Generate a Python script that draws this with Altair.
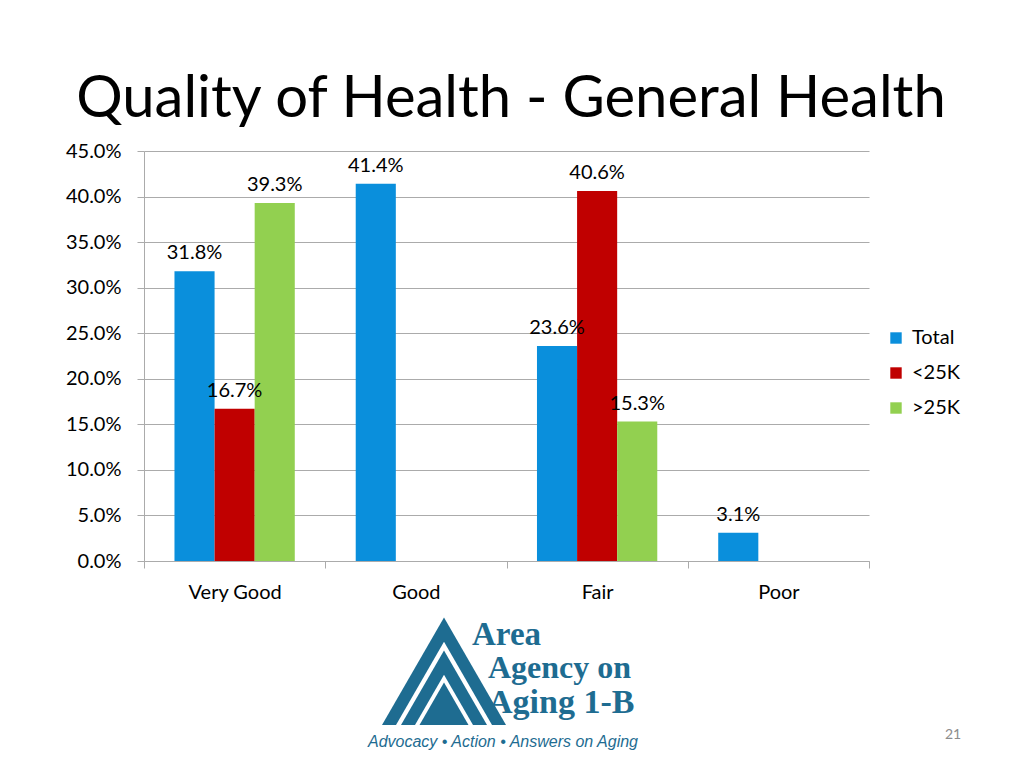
import altair as alt
import pandas as pd

categories = ["Very Good", "Good", "Fair", "Poor"]
series = ["Total", "<25K", ">25K"]
total = [31.8, 41.4, 23.6, 3.1]
under25 = [16.7, None, 40.6, None]
over25 = [39.3, None, 15.3, None]
colors = ["#0A8FDC", "#C00000", "#92D050"]
y_ticks = [0, 0.05, 0.10, 0.15, 0.20, 0.25, 0.30, 0.35, 0.40, 0.45]

title_text = "Quality of Health - General Health"
logo_lines = ["Area", "Agency on", "Aging 1-B"]
tagline = "Advocacy \u2022 Action \u2022 Answers on Aging"
page_no = "21"

rows = []
for s, vals in zip(series, [total, under25, over25]):
    for c, v in zip(categories, vals):
        if v is not None:
            rows.append({"category": c, "series": s, "value": v / 100})
df = pd.DataFrame(rows)

FONT = "Lato"
GRID = "#ababab"
LOGO = "#1E6C91"

x = alt.X("category:N", sort=categories,
          scale=alt.Scale(paddingInner=0, paddingOuter=0),
          axis=alt.Axis(title=None, labelAngle=0, tickBand="extent", tickSize=7,
                        labelPadding=14, labelFontSize=20, labelFont=FONT,
                        labelColor="#000000", domainColor=GRID, tickColor=GRID))
xo = alt.XOffset("series:N", sort=series,
                 scale=alt.Scale(paddingInner=0, paddingOuter=0.76))
y = alt.Y("value:Q", scale=alt.Scale(domain=[0, 0.45], nice=False),
          axis=alt.Axis(title=None, values=y_ticks, format=".1%", tickSize=7,
                        labelPadding=16, labelFontSize=20, labelFont=FONT,
                        labelColor="#000000", domainColor=GRID, tickColor=GRID,
                        gridColor=GRID, grid=True))
color = alt.Color("series:N", sort=series,
                  scale=alt.Scale(domain=series, range=colors),
                  legend=alt.Legend(title=None, orient="none", legendX=742, legendY=177,
                                    symbolType="square", symbolSize=130,
                                    labelFontSize=20, labelFont=FONT,
                                    labelColor="#000000", rowPadding=15,
                                    symbolStrokeWidth=0, labelOffset=6))

base = alt.Chart(df)
bars = base.mark_bar().encode(x=x, xOffset=xo, y=y, color=color)
labels = base.mark_text(dy=-8, baseline="bottom", fontSize=20, font=FONT,
                        color="#000000").encode(
    x=x, xOffset=xo, y=y, text=alt.Text("value:Q", format=".1%"))

deco = alt.Chart(pd.DataFrame({"d": [0]}))

title = deco.mark_text(fontSize=58, font=FONT, color="#000000", align="center",
                       baseline="alphabetic").encode(
    x=alt.value(367), y=alt.value(-34), text=alt.value(title_text))

tri_specs = [(124, LOGO), (96, "#ffffff"), (86, LOGO), (58, "#ffffff"), (49, LOGO)]
tris = []
for w, c in tri_specs:
    h = 0.866 * w
    tris.append(deco.mark_point(shape="triangle-up", filled=True, size=w * w,
                                color=c, opacity=1, strokeWidth=0).encode(
        x=alt.value(300), y=alt.value(725 - 151 - h / 2)))

logo_pos = [(328, 494), (344, 527), (344, 562)]
logo_sizes = [33, 32, 34]
logo_texts = []
for t, (lx, ly), fs in zip(logo_lines, logo_pos, logo_sizes):
    logo_texts.append(deco.mark_text(fontSize=fs, font="Liberation Serif",
                                     fontWeight="bold", color=LOGO, align="left",
                                     baseline="alphabetic").encode(
        x=alt.value(lx), y=alt.value(ly), text=alt.value(t)))

tag = deco.mark_text(fontSize=16, font="Liberation Sans", fontStyle="italic",
                     color=LOGO, align="left", baseline="alphabetic").encode(
    x=alt.value(224), y=alt.value(596), text=alt.value(tagline))

page = deco.mark_text(fontSize=14, font=FONT, color="#8c8c8c", align="center",
                      baseline="alphabetic").encode(
    x=alt.value(809), y=alt.value(588), text=alt.value(page_no))

chart = alt.layer(bars, labels, title, *tris, *logo_texts, tag, page).properties(
    width=725, height=410,
    autosize=alt.AutoSizeParams(type="none"),
    padding={"left": 136, "top": 143, "right": 147, "bottom": 199},
).configure_view(stroke=None)

chart.save("out.html", embed_options={"renderer": "svg", "actions": False})
